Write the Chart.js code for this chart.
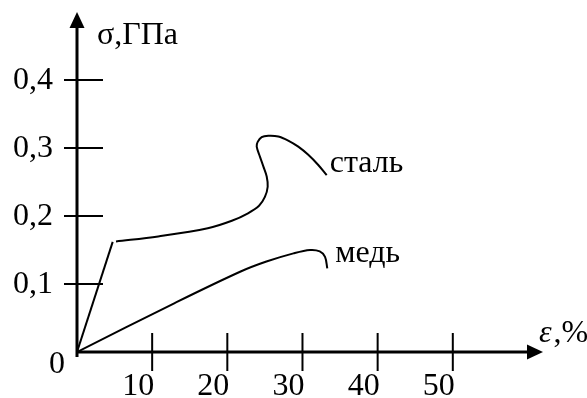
<!DOCTYPE html>
<html>
<head>
<meta charset="utf-8">
<script src="https://cdn.jsdelivr.net/npm/chart.js@4.4.1/dist/chart.umd.min.js"></script>
<style>
  html, body { margin: 0; padding: 0; background: #fff; }
  #chart { display: block; }
</style>
</head>
<body>
<canvas id="chart" width="587" height="398"></canvas>
<script>
// strain, %
const xTicks = [10, 20, 30, 40, 50];
// stress, GPa
const yTicks = [0.1, 0.2, 0.3, 0.4];
const yTickLabels = ["0,1", "0,2", "0,3", "0,4"];
const seriesNames = ["сталь", "медь"];

// steel: straight elastic part, then the plastic part with the S-shaped hump
const steelElasticX = [0, 4.75];
const steelElasticY = [0, 0.162];
const steelX = [5.19, 10.8, 17.4, 20.6, 22.75, 24.22, 25.0, 25.37, 25.24, 24.79, 24.35, 23.91, 24.04, 24.57, 25.45, 26.78, 28.1, 29.44, 30.77, 32.1, 33.22];
const steelY = [0.1625, 0.170, 0.182, 0.193, 0.204, 0.215, 0.228, 0.243, 0.258, 0.273, 0.287, 0.302, 0.309, 0.316, 0.318, 0.317, 0.311, 0.302, 0.290, 0.275, 0.260];

// copper
const copperX = [0, 13.0, 21.7, 25.2, 28.8, 31.0, 32.3, 33.0, 33.3];
const copperY = [0, 0.072, 0.118, 0.133, 0.145, 0.150, 0.148, 0.140, 0.123];

const FONT = "'Liberation Serif', 'Times New Roman', serif";

function toPoints(xs, ys) {
    return xs.map(function (x, i) { return { x: x, y: ys[i] }; });
}

const axesPlugin = {
    id: "axesPlugin",
    afterDatasetsDraw: function (chart) {
        const ctx = chart.ctx;
        const xs = chart.scales.x;
        const ys = chart.scales.y;
        const x0 = xs.getPixelForValue(0);
        const y0 = ys.getPixelForValue(0);
        const xEnd = xs.right;
        const yEnd = ys.top;

        ctx.save();
        ctx.strokeStyle = "#000";
        ctx.fillStyle = "#000";
        ctx.lineCap = "butt";

        // axes
        ctx.lineWidth = 3;
        ctx.beginPath();
        ctx.moveTo(x0, y0 + 5);
        ctx.lineTo(x0, yEnd + 12);
        ctx.moveTo(x0 - 1, y0);
        ctx.lineTo(xEnd - 12, y0);
        ctx.stroke();

        // arrows
        ctx.beginPath();
        ctx.moveTo(x0, yEnd);
        ctx.lineTo(x0 - 7.5, yEnd + 16);
        ctx.lineTo(x0 + 7.5, yEnd + 16);
        ctx.closePath();
        ctx.fill();
        ctx.beginPath();
        ctx.moveTo(xEnd, y0);
        ctx.lineTo(xEnd - 16, y0 - 7.5);
        ctx.lineTo(xEnd - 16, y0 + 7.5);
        ctx.closePath();
        ctx.fill();

        // tick marks
        ctx.lineWidth = 2;
        ctx.beginPath();
        yTicks.forEach(function (v) {
            const py = ys.getPixelForValue(v);
            ctx.moveTo(x0 - 13, py);
            ctx.lineTo(x0 + 26, py);
        });
        xTicks.forEach(function (v) {
            const px = xs.getPixelForValue(v);
            ctx.moveTo(px, y0 - 19);
            ctx.lineTo(px, y0 + 19);
        });
        ctx.stroke();

        // tick labels
        ctx.font = "32px " + FONT;
        ctx.textBaseline = "alphabetic";
        ctx.textAlign = "right";
        yTicks.forEach(function (v, i) {
            ctx.fillText(yTickLabels[i], x0 - 24, ys.getPixelForValue(v) + 9);
        });
        xTicks.forEach(function (v) {
            ctx.fillText(String(v), xs.getPixelForValue(v) + 2, y0 + 43);
        });
        ctx.textAlign = "center";
        ctx.fillText("0", x0 - 20, y0 + 21);

        // axis titles
        ctx.textAlign = "left";
        ctx.fillText("σ,ГПа", x0 + 20, yEnd + 32);
        ctx.font = "italic 32px " + FONT;
        ctx.fillText("ε", xEnd - 4, y0 - 10);
        const w = ctx.measureText("ε").width;
        ctx.font = "32px " + FONT;
        ctx.fillText(",%", xEnd - 4 + w + 2, y0 - 10);

        // curve names next to curve ends
        const steelEnd = chart.getDatasetMeta(1).data[steelX.length - 1];
        const copperEnd = chart.getDatasetMeta(2).data[copperX.length - 1];
        ctx.fillText(seriesNames[0], steelEnd.x + 3, steelEnd.y - 3);
        ctx.fillText(seriesNames[1], copperEnd.x + 8, copperEnd.y - 6);

        ctx.restore();
    }
};

const lineStyle = {
    showLine: true,
    borderColor: "#000",
    borderWidth: 2,
    pointRadius: 0,
    fill: false
};

new Chart(document.getElementById("chart"), {
    type: "scatter",
    data: {
        datasets: [
            Object.assign({ label: seriesNames[0], data: toPoints(steelElasticX, steelElasticY), tension: 0 }, lineStyle),
            Object.assign({ label: seriesNames[0], data: toPoints(steelX, steelY), tension: 0.35 }, lineStyle),
            Object.assign({ label: seriesNames[1], data: toPoints(copperX, copperY), tension: 0.35 }, lineStyle)
        ]
    },
    options: {
        responsive: false,
        animation: false,
        devicePixelRatio: 1,
        layout: {
            padding: { left: 77, right: 44, top: 12, bottom: 46 }
        },
        plugins: {
            legend: { display: false },
            tooltip: { enabled: false }
        },
        scales: {
            x: { type: "linear", min: 0, max: 62, display: false },
            y: { type: "linear", min: 0, max: 0.5, display: false }
        }
    },
    plugins: [axesPlugin]
});
</script>
</body>
</html>
